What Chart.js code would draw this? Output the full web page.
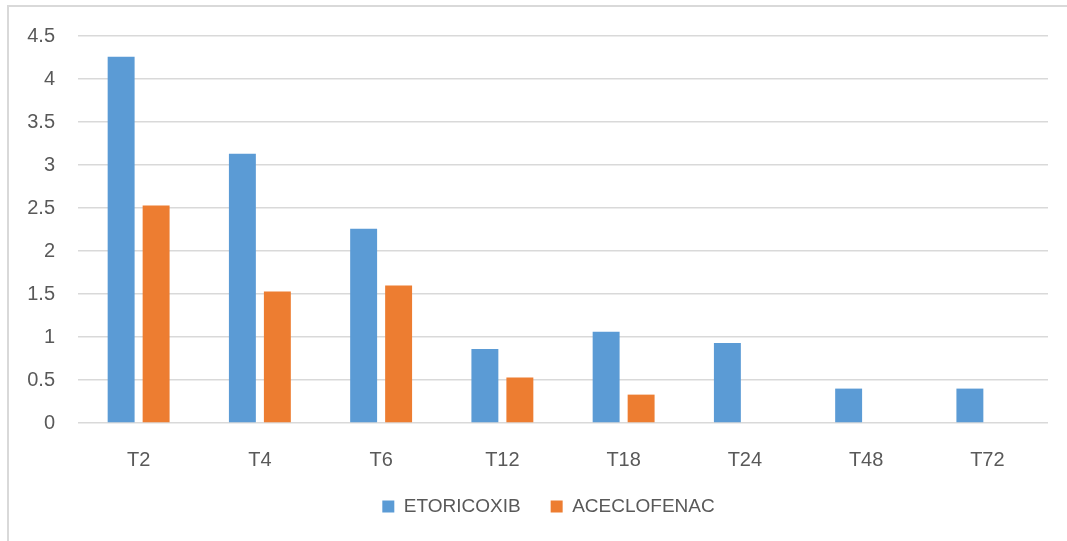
<!DOCTYPE html>
<html>
<head>
<meta charset="utf-8">
<script src="https://cdn.jsdelivr.net/npm/chart.js@4"></script>
<style>
  html, body { margin: 0; padding: 0; background: #ffffff; }
  #wrap { width: 1067px; height: 541px; position: relative; }
</style>
</head>
<body>
<div id="wrap"><canvas id="chart" width="1067" height="541"></canvas></div>
<script>
// Time points and scores for the two drugs
const categories = ['T2', 'T4', 'T6', 'T12', 'T18', 'T24', 'T48', 'T72'];
const etoricoxib = [4.26, 3.13, 2.26, 0.86, 1.06, 0.93, 0.40, 0.40];
const aceclofenac = [2.53, 1.53, 1.60, 0.53, 0.33, 0, 0, 0];
const seriesNames = ['ETORICOXIB', 'ACECLOFENAC'];
const yTickValues = [0, 0.5, 1, 1.5, 2, 2.5, 3, 3.5, 4, 4.5];
const yTickLabels = ['0', '0.5', '1', '1.5', '2', '2.5', '3', '3.5', '4', '4.5'];

const textColor = '#595959';
const gridColor = '#d9d9d9';
const fontFamily = '"Liberation Sans", Arial, sans-serif';

// Thin frame along the top and left edges of the chart box
const framePlugin = {
  id: 'frame',
  beforeDraw(chart) {
    const ctx = chart.ctx;
    ctx.save();
    ctx.strokeStyle = gridColor;
    ctx.lineWidth = 2;
    ctx.beginPath();
    ctx.moveTo(8, 541);
    ctx.lineTo(8, 6);
    ctx.lineTo(1067, 6);
    ctx.stroke();
    ctx.restore();
  }
};

// The chart box extends past the right edge of the canvas, so the legend
// is centred on the wider box rather than on the canvas.
const legendOffsetPlugin = {
  id: 'legendOffset',
  afterLayout(chart) {
    if (chart.legend) {
      chart.legend.left += 29;
    }
  }
};

new Chart(document.getElementById('chart'), {
  type: 'bar',
  data: {
    labels: categories,
    datasets: [
      { label: seriesNames[0], data: etoricoxib, backgroundColor: '#5b9bd5' },
      { label: seriesNames[1], data: aceclofenac, backgroundColor: '#ed7d31' }
    ]
  },
  options: {
    responsive: false,
    animation: false,
    devicePixelRatio: 1,
    layout: { padding: { left: 20, right: 19, top: 36, bottom: 15 } },
    datasets: { bar: { categoryPercentage: 0.577, barPercentage: 0.77 } },
    plugins: {
      tooltip: { enabled: false },
      legend: {
        position: 'bottom',
        labels: {
          color: textColor,
          font: { family: fontFamily, size: 19 },
          boxWidth: 12,
          boxHeight: 12,
          padding: 30
        }
      }
    },
    scales: {
      x: {
        grid: { display: false },
        border: { display: false },
        ticks: { color: textColor, font: { family: fontFamily, size: 20 }, padding: 17, maxRotation: 0 },
        afterFit(scale) { scale.height = 44; }
      },
      y: {
        min: 0,
        max: 4.5,
        afterBuildTicks(scale) { scale.ticks = yTickValues.map(v => ({ value: v })); },
        grid: { color: gridColor, lineWidth: 1.5, drawTicks: false },
        border: { display: false },
        ticks: {
          color: textColor,
          font: { family: fontFamily, size: 20 },
          padding: 23,
          callback(value, index) { return yTickLabels[index]; }
        },
        afterFit(scale) { scale.width = 58; }
      }
    }
  },
  plugins: [framePlugin, legendOffsetPlugin]
});
</script>
</body>
</html>
